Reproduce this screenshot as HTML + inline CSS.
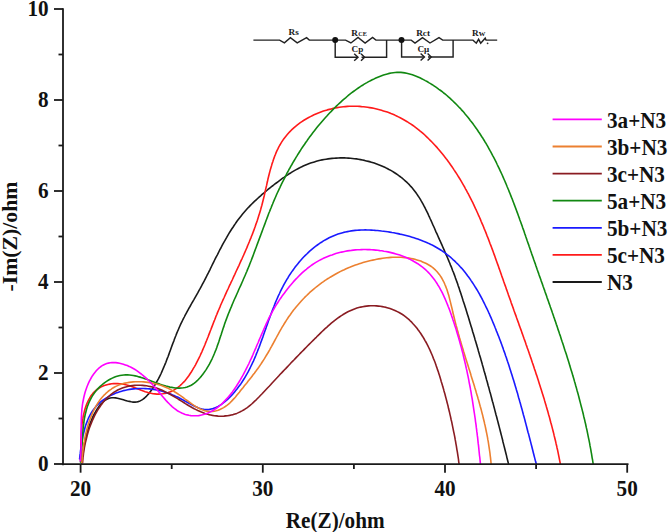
<!DOCTYPE html>
<html><head><meta charset="utf-8"><style>
html,body{margin:0;padding:0;background:#fff;}
svg{display:block;}
</style></head><body>
<svg width="668" height="532" viewBox="0 0 668 532">
<rect width="668" height="532" fill="#fff"/>
<g fill="none" stroke-width="1.60" stroke-linejoin="round" stroke-linecap="round">
<path d="M81.4,462.9 81.7,460.9 81.9,459.0 82.2,457.0 82.5,455.1 82.8,453.1 83.1,451.2 83.4,449.2 83.8,447.3 84.1,445.3 84.5,443.4 84.9,441.4 85.4,439.5 85.8,437.5 86.3,435.6 86.8,433.6 87.4,431.7 87.9,429.8 88.6,427.8 89.2,425.9 89.9,423.9 90.7,422.0 91.5,420.0 92.3,418.1 93.2,416.2 94.2,414.2 95.2,412.3 96.3,410.5 97.4,408.7 98.6,407.0 99.8,405.3 101.1,403.8 102.5,402.5 103.9,401.2 105.3,400.1 106.9,399.2 108.5,398.5 110.2,398.0 111.9,397.8 113.7,397.7 115.6,397.9 117.5,398.2 119.5,398.7 121.4,399.2 123.4,399.8 125.4,400.4 127.4,401.0 129.3,401.4 131.3,401.8 133.1,402.1 135.0,402.1 136.7,402.0 138.4,401.6 140.1,400.9 141.6,400.1 143.1,399.1 144.6,398.0 146.0,396.7 147.3,395.3 148.6,393.9 149.8,392.3 151.0,390.7 152.2,389.1 153.3,387.5 154.4,385.8 155.4,384.1 156.4,382.4 157.4,380.6 158.4,378.9 159.3,377.1 160.2,375.3 161.1,373.5 161.9,371.6 162.7,369.8 163.5,367.9 164.3,366.0 165.1,364.1 165.9,362.2 166.6,360.3 167.3,358.4 168.1,356.5 168.8,354.6 169.5,352.6 170.2,350.7 170.9,348.8 171.6,346.8 172.3,344.9 173.0,343.0 173.8,341.1 174.5,339.1 175.2,337.2 176.0,335.3 176.7,333.4 177.5,331.5 178.3,329.7 179.1,327.8 179.9,326.0 180.7,324.1 181.6,322.3 182.5,320.5 183.4,318.7 184.3,317.0 185.2,315.2 186.2,313.4 187.1,311.7 188.1,309.9 189.0,308.2 190.0,306.5 191.0,304.7 191.9,303.0 192.9,301.3 193.9,299.6 194.9,297.8 195.9,296.1 196.9,294.4 197.9,292.7 198.8,290.9 199.8,289.2 200.8,287.4 201.7,285.7 202.6,283.9 203.6,282.1 204.5,280.4 205.4,278.6 206.3,276.8 207.2,275.0 208.2,273.2 209.1,271.4 210.0,269.6 210.8,267.8 211.7,266.0 212.6,264.2 213.5,262.3 214.4,260.5 215.3,258.7 216.2,256.9 217.2,255.1 218.1,253.3 219.0,251.5 219.9,249.7 220.9,248.0 221.8,246.2 222.7,244.4 223.7,242.6 224.7,240.9 225.7,239.1 226.7,237.4 227.7,235.6 228.7,233.9 229.7,232.2 230.8,230.5 231.9,228.8 233.0,227.2 234.1,225.5 235.2,223.9 236.3,222.2 237.5,220.6 238.7,219.0 239.9,217.4 241.1,215.9 242.4,214.3 243.7,212.8 245.0,211.3 246.3,209.8 247.6,208.3 249.0,206.9 250.4,205.4 251.8,204.0 253.2,202.6 254.7,201.2 256.2,199.8 257.6,198.5 259.1,197.1 260.6,195.8 262.1,194.4 263.7,193.1 265.2,191.8 266.8,190.5 268.3,189.2 269.9,188.0 271.5,186.7 273.1,185.5 274.7,184.2 276.3,183.0 277.9,181.8 279.5,180.6 281.1,179.4 282.7,178.2 284.4,177.1 286.0,175.9 287.7,174.8 289.3,173.7 291.0,172.7 292.7,171.6 294.4,170.6 296.2,169.6 297.9,168.7 299.7,167.8 301.4,166.9 303.2,166.1 305.0,165.3 306.9,164.5 308.7,163.8 310.6,163.1 312.5,162.5 314.4,161.9 316.3,161.3 318.2,160.8 320.2,160.3 322.1,159.9 324.1,159.5 326.1,159.2 328.1,158.9 330.1,158.6 332.1,158.4 334.1,158.2 336.1,158.1 338.2,158.0 340.2,157.9 342.2,157.9 344.3,157.9 346.3,158.0 348.3,158.1 350.4,158.3 352.4,158.5 354.4,158.7 356.4,158.9 358.5,159.2 360.5,159.6 362.5,160.0 364.5,160.4 366.4,160.9 368.4,161.4 370.4,161.9 372.3,162.5 374.2,163.1 376.1,163.8 378.0,164.5 379.9,165.2 381.8,166.0 383.6,166.8 385.4,167.6 387.2,168.5 389.0,169.5 390.8,170.4 392.5,171.4 394.2,172.5 395.8,173.5 397.5,174.7 399.1,175.8 400.7,177.0 402.2,178.2 403.7,179.5 405.2,180.8 406.7,182.1 408.1,183.5 409.5,184.9 410.8,186.4 412.1,187.8 413.4,189.4 414.6,190.9 415.8,192.5 416.9,194.1 418.0,195.8 419.1,197.4 420.2,199.1 421.2,200.9 422.2,202.6 423.2,204.4 424.1,206.2 425.1,208.0 426.0,209.8 426.9,211.6 427.8,213.4 428.6,215.3 429.5,217.2 430.3,219.0 431.2,220.9 432.0,222.7 432.8,224.6 433.7,226.5 434.5,228.3 435.3,230.2 436.1,232.1 437.0,233.9 437.8,235.8 438.6,237.6 439.4,239.4 440.3,241.3 441.1,243.1 441.9,244.9 442.7,246.8 443.5,248.6 444.3,250.4 445.1,252.2 445.9,254.1 446.7,255.9 447.5,257.7 448.3,259.6 449.0,261.4 449.8,263.2 450.5,265.1 451.3,266.9 452.0,268.8 452.7,270.7 453.5,272.5 454.2,274.4 454.9,276.3 455.5,278.1 456.2,280.0 456.9,281.9 457.6,283.8 458.2,285.7 458.9,287.6 459.5,289.5 460.1,291.4 460.8,293.3 461.4,295.2 462.0,297.1 462.6,299.0 463.2,300.9 463.9,302.9 464.5,304.8 465.1,306.7 465.7,308.6 466.3,310.5 466.9,312.5 467.5,314.4 468.1,316.3 468.7,318.2 469.2,320.1 469.8,322.1 470.4,324.0 471.0,325.9 471.6,327.8 472.2,329.7 472.7,331.7 473.3,333.6 473.9,335.5 474.5,337.4 475.0,339.4 475.6,341.3 476.2,343.2 476.7,345.1 477.3,347.1 477.9,349.0 478.4,350.9 479.0,352.9 479.5,354.8 480.1,356.7 480.7,358.6 481.2,360.6 481.8,362.5 482.3,364.4 482.9,366.4 483.4,368.3 483.9,370.2 484.5,372.2 485.0,374.1 485.6,376.0 486.1,378.0 486.6,379.9 487.2,381.8 487.7,383.8 488.2,385.7 488.8,387.6 489.3,389.6 489.8,391.5 490.4,393.4 490.9,395.4 491.4,397.3 491.9,399.3 492.4,401.2 493.0,403.1 493.5,405.1 494.0,407.0 494.5,408.9 495.0,410.9 495.5,412.8 496.0,414.8 496.6,416.7 497.1,418.7 497.6,420.6 498.1,422.5 498.6,424.5 499.1,426.4 499.6,428.4 500.1,430.3 500.6,432.3 501.1,434.2 501.6,436.1 502.1,438.1 502.6,440.0 503.0,442.0 503.5,443.9 504.0,445.9 504.5,447.8 505.0,449.8 505.5,451.7 506.0,453.7 506.5,455.6 506.9,457.6 507.4,459.5 507.9,461.5 508.4,463.4" stroke="#1a1a1a"/>
<path d="M80.8,460.6 80.8,459.1 80.8,457.4 80.8,455.8 80.8,454.0 80.8,452.2 80.8,450.3 80.8,448.4 80.8,446.4 80.8,444.4 80.9,442.3 80.9,440.2 81.0,438.1 81.1,435.9 81.2,433.7 81.3,431.5 81.5,429.3 81.7,427.2 81.9,425.0 82.2,422.8 82.5,420.6 82.9,418.4 83.2,416.3 83.7,414.2 84.2,412.1 84.7,410.0 85.3,408.0 86.0,406.1 86.7,404.1 87.5,402.3 88.3,400.5 89.2,398.8 90.2,397.1 91.2,395.5 92.4,394.1 93.6,392.6 94.9,391.3 96.2,390.1 97.7,389.0 99.2,388.0 100.8,387.1 102.5,386.3 104.3,385.6 106.1,385.0 107.9,384.5 109.8,384.1 111.7,383.8 113.7,383.6 115.7,383.5 117.7,383.6 119.7,383.7 121.7,383.9 123.7,384.3 125.7,384.7 127.7,385.2 129.6,385.8 131.6,386.5 133.6,387.2 135.5,388.0 137.5,388.8 139.4,389.5 141.3,390.3 143.3,391.0 145.2,391.7 147.2,392.3 149.1,392.9 151.0,393.3 153.0,393.7 154.9,393.9 156.9,394.1 158.8,394.1 160.7,394.0 162.6,393.8 164.5,393.5 166.3,393.1 168.2,392.6 169.9,391.9 171.7,391.2 173.4,390.4 175.0,389.4 176.6,388.4 178.2,387.2 179.7,386.0 181.1,384.7 182.5,383.3 183.9,381.9 185.2,380.4 186.5,378.8 187.7,377.2 189.0,375.5 190.1,373.8 191.3,372.0 192.4,370.2 193.4,368.4 194.5,366.6 195.5,364.8 196.5,362.9 197.4,361.1 198.4,359.2 199.3,357.4 200.2,355.5 201.0,353.6 201.9,351.8 202.7,349.9 203.5,348.0 204.3,346.2 205.1,344.3 205.8,342.4 206.6,340.5 207.3,338.7 208.1,336.8 208.8,334.9 209.5,333.1 210.2,331.2 211.0,329.3 211.7,327.4 212.4,325.6 213.1,323.7 213.8,321.9 214.6,320.0 215.3,318.2 216.0,316.3 216.8,314.5 217.5,312.6 218.3,310.8 219.1,309.0 219.9,307.1 220.6,305.3 221.4,303.5 222.2,301.7 223.0,299.9 223.9,298.0 224.7,296.2 225.5,294.4 226.3,292.6 227.1,290.8 228.0,289.0 228.8,287.2 229.6,285.4 230.5,283.6 231.3,281.8 232.2,280.0 233.0,278.2 233.8,276.4 234.7,274.6 235.5,272.8 236.3,271.0 237.2,269.2 238.0,267.4 238.9,265.6 239.7,263.8 240.5,261.9 241.3,260.1 242.2,258.3 243.0,256.5 243.8,254.7 244.6,252.9 245.4,251.0 246.2,249.2 247.0,247.4 247.7,245.5 248.5,243.7 249.3,241.8 250.0,240.0 250.8,238.1 251.5,236.2 252.3,234.4 253.0,232.5 253.7,230.6 254.4,228.7 255.1,226.8 255.7,224.9 256.4,223.0 257.1,221.1 257.7,219.2 258.3,217.2 258.9,215.3 259.5,213.4 260.1,211.4 260.7,209.4 261.2,207.5 261.8,205.5 262.3,203.5 262.8,201.5 263.3,199.5 263.8,197.5 264.3,195.5 264.7,193.5 265.2,191.4 265.6,189.4 266.1,187.4 266.6,185.4 267.0,183.3 267.5,181.3 267.9,179.3 268.4,177.3 268.9,175.3 269.4,173.3 269.9,171.4 270.4,169.4 271.0,167.4 271.6,165.5 272.1,163.6 272.8,161.7 273.4,159.8 274.1,157.9 274.7,156.1 275.5,154.2 276.2,152.4 277.0,150.7 277.9,148.9 278.7,147.2 279.6,145.5 280.6,143.8 281.6,142.2 282.6,140.6 283.7,139.0 284.9,137.4 286.1,135.9 287.3,134.5 288.6,133.0 289.9,131.6 291.3,130.2 292.7,128.9 294.1,127.6 295.6,126.3 297.1,125.1 298.7,123.9 300.3,122.7 301.9,121.6 303.5,120.5 305.2,119.5 306.9,118.5 308.7,117.5 310.4,116.6 312.2,115.7 314.0,114.8 315.9,114.0 317.7,113.2 319.6,112.5 321.5,111.8 323.4,111.1 325.3,110.5 327.3,109.9 329.3,109.4 331.2,108.9 333.2,108.4 335.2,108.0 337.2,107.6 339.2,107.3 341.3,107.0 343.3,106.8 345.3,106.6 347.3,106.4 349.4,106.3 351.4,106.2 353.5,106.2 355.5,106.2 357.5,106.3 359.5,106.4 361.6,106.6 363.6,106.7 365.6,107.0 367.6,107.3 369.6,107.6 371.6,107.9 373.6,108.3 375.6,108.7 377.6,109.2 379.5,109.7 381.5,110.3 383.4,110.9 385.3,111.5 387.3,112.1 389.2,112.8 391.0,113.6 392.9,114.3 394.8,115.1 396.6,116.0 398.4,116.9 400.2,117.8 402.0,118.7 403.8,119.7 405.5,120.7 407.2,121.7 408.9,122.8 410.6,123.9 412.3,125.0 413.9,126.2 415.5,127.4 417.1,128.6 418.7,129.8 420.2,131.1 421.8,132.4 423.3,133.7 424.8,135.0 426.2,136.4 427.7,137.8 429.1,139.2 430.5,140.6 431.9,142.0 433.3,143.5 434.7,145.0 436.0,146.4 437.4,147.9 438.7,149.4 440.0,151.0 441.2,152.5 442.5,154.1 443.7,155.6 445.0,157.2 446.2,158.8 447.4,160.3 448.6,161.9 449.7,163.5 450.9,165.2 452.0,166.8 453.1,168.4 454.2,170.1 455.3,171.7 456.4,173.4 457.5,175.1 458.5,176.8 459.6,178.5 460.6,180.2 461.6,181.9 462.6,183.6 463.6,185.3 464.6,187.0 465.5,188.8 466.5,190.5 467.4,192.3 468.4,194.0 469.3,195.8 470.2,197.6 471.1,199.4 472.0,201.2 472.9,202.9 473.7,204.7 474.6,206.6 475.4,208.4 476.3,210.2 477.1,212.0 477.9,213.8 478.7,215.7 479.6,217.5 480.4,219.4 481.1,221.2 481.9,223.1 482.7,224.9 483.5,226.8 484.2,228.6 485.0,230.5 485.8,232.4 486.5,234.3 487.2,236.1 488.0,238.0 488.7,239.9 489.4,241.8 490.1,243.7 490.9,245.6 491.6,247.5 492.3,249.4 493.0,251.3 493.7,253.2 494.4,255.1 495.1,257.0 495.7,258.9 496.4,260.8 497.1,262.7 497.8,264.6 498.5,266.5 499.1,268.4 499.8,270.3 500.5,272.2 501.2,274.2 501.8,276.1 502.5,278.0 503.2,279.9 503.8,281.8 504.5,283.7 505.2,285.6 505.9,287.5 506.5,289.4 507.2,291.3 507.9,293.2 508.5,295.1 509.2,297.0 509.9,298.9 510.6,300.8 511.2,302.7 511.9,304.6 512.6,306.5 513.3,308.4 513.9,310.3 514.6,312.2 515.3,314.1 516.0,315.9 516.6,317.8 517.3,319.7 518.0,321.6 518.7,323.5 519.3,325.4 520.0,327.3 520.7,329.1 521.4,331.0 522.0,332.9 522.7,334.8 523.4,336.7 524.0,338.5 524.7,340.4 525.4,342.3 526.0,344.2 526.7,346.1 527.3,348.0 528.0,349.8 528.7,351.7 529.3,353.6 530.0,355.5 530.6,357.4 531.3,359.3 531.9,361.2 532.5,363.0 533.2,364.9 533.8,366.8 534.4,368.7 535.1,370.6 535.7,372.5 536.3,374.4 537.0,376.3 537.6,378.2 538.2,380.1 538.8,382.0 539.4,383.9 540.0,385.8 540.6,387.7 541.2,389.6 541.8,391.5 542.4,393.4 543.0,395.3 543.6,397.2 544.2,399.1 544.7,401.0 545.3,402.9 545.9,404.9 546.4,406.8 547.0,408.7 547.5,410.6 548.1,412.6 548.6,414.5 549.2,416.4 549.7,418.3 550.2,420.3 550.7,422.2 551.3,424.2 551.8,426.1 552.3,428.1 552.8,430.0 553.3,432.0 553.8,433.9 554.2,435.9 554.7,437.8 555.2,439.8 555.7,441.8 556.1,443.7 556.6,445.7 557.0,447.7 557.5,449.7 557.9,451.7 558.3,453.7 558.7,455.7 559.1,457.7 559.5,459.7 559.9,461.7 560.3,463.7" stroke="#ff1a1a"/>
<path d="M79.6,458.9 79.8,457.0 80.0,455.1 80.3,453.2 80.5,451.2 80.8,449.2 81.1,447.3 81.4,445.3 81.7,443.2 82.0,441.2 82.4,439.2 82.7,437.2 83.1,435.2 83.6,433.2 84.1,431.2 84.6,429.2 85.1,427.3 85.7,425.3 86.4,423.4 87.1,421.6 87.8,419.7 88.6,417.9 89.5,416.1 90.4,414.4 91.4,412.7 92.5,411.0 93.6,409.4 94.8,407.9 96.0,406.4 97.4,404.9 98.8,403.6 100.3,402.2 101.8,401.0 103.4,399.8 105.1,398.7 106.8,397.6 108.6,396.6 110.4,395.6 112.2,394.7 114.0,393.9 115.9,393.1 117.8,392.4 119.8,391.8 121.7,391.2 123.6,390.6 125.6,390.2 127.6,389.8 129.6,389.4 131.5,389.1 133.5,388.9 135.5,388.7 137.5,388.6 139.5,388.5 141.5,388.5 143.5,388.5 145.5,388.6 147.5,388.7 149.5,388.9 151.5,389.2 153.4,389.4 155.4,389.8 157.4,390.2 159.3,390.6 161.2,391.1 163.1,391.6 165.0,392.2 166.9,392.8 168.8,393.4 170.7,394.1 172.5,394.9 174.3,395.6 176.2,396.5 178.0,397.3 179.8,398.2 181.6,399.2 183.5,400.2 185.3,401.2 187.2,402.2 189.0,403.3 190.9,404.3 192.8,405.3 194.7,406.3 196.6,407.1 198.4,407.9 200.3,408.6 202.2,409.1 204.0,409.4 205.9,409.6 207.7,409.6 209.5,409.4 211.2,409.0 213.0,408.6 214.7,407.9 216.4,407.2 218.1,406.4 219.8,405.4 221.4,404.3 223.0,403.2 224.6,401.9 226.1,400.6 227.6,399.3 229.1,397.9 230.6,396.4 232.0,394.9 233.3,393.4 234.6,391.9 235.9,390.3 237.2,388.7 238.4,387.1 239.6,385.5 240.8,383.9 241.9,382.2 243.0,380.5 244.1,378.8 245.1,377.1 246.1,375.4 247.1,373.7 248.1,371.9 249.0,370.1 249.9,368.3 250.8,366.5 251.7,364.7 252.5,362.9 253.4,361.1 254.2,359.2 255.0,357.4 255.8,355.5 256.5,353.6 257.3,351.7 258.0,349.9 258.8,348.0 259.5,346.1 260.2,344.2 260.9,342.3 261.6,340.4 262.3,338.5 263.0,336.6 263.6,334.7 264.3,332.7 265.0,330.8 265.7,328.9 266.3,327.0 267.0,325.1 267.7,323.2 268.3,321.3 269.0,319.4 269.7,317.6 270.4,315.7 271.1,313.8 271.8,311.9 272.5,310.0 273.2,308.2 274.0,306.3 274.7,304.5 275.4,302.6 276.2,300.8 277.0,299.0 277.8,297.1 278.6,295.3 279.5,293.5 280.3,291.7 281.2,289.9 282.1,288.1 283.0,286.4 283.9,284.6 284.9,282.8 285.9,281.1 286.9,279.4 288.0,277.7 289.0,275.9 290.1,274.3 291.2,272.6 292.4,270.9 293.6,269.3 294.8,267.6 296.0,266.0 297.3,264.4 298.5,262.9 299.9,261.3 301.2,259.8 302.5,258.3 303.9,256.8 305.3,255.4 306.8,254.0 308.2,252.6 309.7,251.2 311.2,249.9 312.7,248.6 314.2,247.4 315.8,246.2 317.4,245.0 319.0,243.8 320.6,242.7 322.3,241.7 323.9,240.6 325.6,239.7 327.4,238.7 329.1,237.8 330.8,237.0 332.6,236.2 334.4,235.4 336.2,234.7 338.0,234.1 339.9,233.5 341.8,232.9 343.6,232.4 345.5,232.0 347.5,231.6 349.4,231.2 351.3,230.9 353.3,230.6 355.2,230.4 357.2,230.3 359.2,230.1 361.2,230.0 363.2,230.0 365.3,229.9 367.3,230.0 369.3,230.0 371.3,230.1 373.4,230.2 375.4,230.4 377.5,230.5 379.5,230.7 381.6,231.0 383.6,231.2 385.7,231.5 387.8,231.8 389.8,232.1 391.9,232.5 393.9,232.8 395.9,233.2 398.0,233.6 400.0,234.1 402.0,234.5 404.0,235.0 406.0,235.5 408.0,236.0 410.0,236.6 412.0,237.2 414.0,237.8 415.9,238.4 417.8,239.0 419.7,239.7 421.6,240.4 423.5,241.2 425.4,241.9 427.2,242.7 429.0,243.6 430.8,244.4 432.6,245.3 434.4,246.2 436.1,247.2 437.8,248.2 439.5,249.2 441.1,250.2 442.7,251.3 444.3,252.4 445.9,253.6 447.4,254.8 449.0,256.0 450.4,257.2 451.9,258.5 453.3,259.8 454.8,261.1 456.1,262.5 457.5,263.8 458.9,265.2 460.2,266.7 461.5,268.1 462.8,269.6 464.0,271.1 465.2,272.6 466.5,274.2 467.6,275.8 468.8,277.3 470.0,278.9 471.1,280.6 472.2,282.2 473.3,283.9 474.4,285.6 475.4,287.3 476.5,289.0 477.5,290.7 478.5,292.4 479.5,294.2 480.5,296.0 481.4,297.7 482.4,299.5 483.3,301.3 484.2,303.2 485.1,305.0 486.0,306.8 486.9,308.6 487.8,310.5 488.6,312.3 489.5,314.2 490.3,316.1 491.1,317.9 491.9,319.8 492.7,321.7 493.5,323.6 494.3,325.5 495.0,327.3 495.8,329.2 496.5,331.1 497.3,333.0 498.0,334.9 498.8,336.8 499.5,338.7 500.2,340.5 500.9,342.4 501.6,344.3 502.3,346.2 503.0,348.1 503.6,350.0 504.3,351.9 505.0,353.8 505.6,355.7 506.3,357.5 506.9,359.4 507.5,361.3 508.2,363.2 508.8,365.1 509.4,367.0 510.0,368.9 510.6,370.8 511.2,372.7 511.8,374.6 512.4,376.5 513.0,378.4 513.6,380.3 514.2,382.2 514.7,384.1 515.3,386.0 515.9,387.9 516.4,389.8 517.0,391.7 517.6,393.6 518.1,395.6 518.6,397.5 519.2,399.4 519.7,401.3 520.3,403.2 520.8,405.1 521.3,407.1 521.9,409.0 522.4,410.9 522.9,412.8 523.4,414.7 524.0,416.7 524.5,418.6 525.0,420.5 525.5,422.5 526.0,424.4 526.5,426.3 527.0,428.3 527.5,430.2 528.0,432.2 528.6,434.1 529.1,436.1 529.6,438.0 530.1,440.0 530.6,441.9 531.1,443.9 531.6,445.8 532.1,447.8 532.6,449.8 533.1,451.7 533.6,453.7 534.1,455.7 534.6,457.6 535.1,459.6 535.6,461.6 536.2,463.6" stroke="#1a1aff"/>
<path d="M80.4,462.0 80.7,460.1 80.9,458.1 81.2,456.2 81.4,454.2 81.5,452.2 81.7,450.2 81.8,448.2 82.0,446.2 82.1,444.1 82.2,442.1 82.3,440.1 82.5,438.1 82.6,436.0 82.7,434.0 82.9,432.0 83.0,429.9 83.2,427.9 83.4,425.9 83.7,423.9 83.9,421.9 84.2,419.9 84.5,418.0 84.9,416.0 85.3,414.1 85.8,412.2 86.3,410.3 86.8,408.4 87.4,406.5 88.1,404.7 88.8,402.9 89.6,401.1 90.5,399.3 91.4,397.6 92.4,395.9 93.5,394.2 94.7,392.6 95.9,391.0 97.3,389.4 98.7,387.9 100.2,386.4 101.8,385.0 103.4,383.6 105.1,382.3 106.9,381.1 108.7,380.0 110.5,379.0 112.3,378.1 114.2,377.2 116.1,376.5 118.0,376.0 119.9,375.5 121.8,375.2 123.8,375.0 125.7,374.9 127.6,374.9 129.5,375.0 131.4,375.2 133.3,375.5 135.2,375.9 137.1,376.3 139.0,376.9 141.0,377.4 142.9,378.0 144.8,378.7 146.7,379.3 148.6,380.0 150.5,380.7 152.5,381.5 154.4,382.2 156.3,382.9 158.2,383.6 160.2,384.3 162.1,384.9 164.0,385.5 166.0,386.1 167.9,386.6 169.9,387.1 171.8,387.4 173.8,387.7 175.7,388.0 177.7,388.1 179.6,388.1 181.5,388.0 183.4,387.8 185.3,387.5 187.1,387.0 188.9,386.3 190.7,385.5 192.4,384.5 194.0,383.4 195.6,382.1 197.2,380.7 198.6,379.2 200.0,377.7 201.4,376.1 202.7,374.4 203.9,372.8 205.1,371.1 206.3,369.4 207.3,367.7 208.4,365.9 209.4,364.2 210.3,362.4 211.2,360.6 212.1,358.8 212.9,357.0 213.7,355.2 214.5,353.3 215.2,351.5 216.0,349.6 216.7,347.7 217.3,345.9 218.0,344.0 218.7,342.1 219.3,340.2 219.9,338.3 220.5,336.4 221.2,334.5 221.8,332.6 222.4,330.7 223.0,328.8 223.7,326.9 224.3,325.0 224.9,323.1 225.6,321.3 226.3,319.4 227.0,317.5 227.7,315.6 228.4,313.8 229.2,311.9 229.9,310.1 230.7,308.2 231.5,306.4 232.2,304.5 233.0,302.7 233.8,300.8 234.6,299.0 235.5,297.2 236.3,295.3 237.1,293.5 237.9,291.7 238.7,289.8 239.5,288.0 240.4,286.2 241.2,284.4 242.0,282.5 242.8,280.7 243.6,278.8 244.4,277.0 245.2,275.2 246.0,273.3 246.8,271.5 247.5,269.6 248.3,267.8 249.1,265.9 249.8,264.0 250.5,262.2 251.3,260.3 252.0,258.4 252.7,256.6 253.4,254.7 254.1,252.8 254.8,250.9 255.5,249.0 256.2,247.2 256.9,245.3 257.6,243.4 258.3,241.5 259.0,239.6 259.7,237.8 260.4,235.9 261.1,234.0 261.8,232.1 262.5,230.2 263.2,228.3 263.9,226.5 264.6,224.6 265.3,222.7 266.0,220.8 266.7,219.0 267.4,217.1 268.1,215.2 268.8,213.3 269.6,211.5 270.3,209.6 271.1,207.8 271.8,205.9 272.6,204.0 273.3,202.2 274.1,200.4 274.9,198.5 275.7,196.7 276.5,194.8 277.3,193.0 278.2,191.2 279.0,189.4 279.9,187.6 280.7,185.8 281.6,183.9 282.5,182.1 283.4,180.4 284.3,178.6 285.2,176.8 286.1,175.0 287.0,173.2 288.0,171.5 288.9,169.7 289.9,168.0 290.9,166.2 291.9,164.5 292.9,162.7 293.9,161.0 294.9,159.3 295.9,157.6 297.0,155.9 298.0,154.2 299.1,152.5 300.2,150.8 301.2,149.1 302.3,147.5 303.5,145.8 304.6,144.2 305.7,142.5 306.9,140.9 308.0,139.3 309.2,137.6 310.4,136.0 311.6,134.4 312.8,132.8 314.0,131.3 315.2,129.7 316.5,128.1 317.7,126.6 319.0,125.0 320.3,123.5 321.6,122.0 322.9,120.5 324.2,119.0 325.5,117.5 326.9,116.0 328.2,114.5 329.6,113.0 331.0,111.6 332.4,110.1 333.8,108.7 335.2,107.3 336.6,105.9 338.1,104.5 339.6,103.1 341.0,101.8 342.5,100.4 344.0,99.1 345.6,97.8 347.1,96.5 348.6,95.2 350.2,93.9 351.8,92.7 353.4,91.5 355.0,90.3 356.7,89.1 358.3,88.0 360.0,86.8 361.7,85.7 363.4,84.7 365.1,83.6 366.9,82.6 368.6,81.6 370.4,80.7 372.2,79.7 374.1,78.9 375.9,78.0 377.8,77.2 379.7,76.4 381.6,75.7 383.5,75.0 385.4,74.4 387.3,73.9 389.3,73.4 391.2,73.0 393.2,72.7 395.1,72.5 397.0,72.4 399.0,72.3 400.9,72.4 402.9,72.6 404.8,72.9 406.7,73.2 408.6,73.7 410.5,74.2 412.4,74.8 414.3,75.5 416.2,76.2 418.0,77.0 419.9,77.8 421.7,78.7 423.5,79.6 425.3,80.6 427.1,81.5 428.8,82.6 430.5,83.6 432.3,84.7 434.0,85.8 435.6,86.9 437.3,88.1 438.9,89.3 440.6,90.5 442.2,91.7 443.7,93.0 445.3,94.2 446.9,95.5 448.4,96.9 449.9,98.2 451.4,99.6 452.9,101.0 454.3,102.4 455.8,103.8 457.2,105.2 458.6,106.7 460.0,108.1 461.3,109.6 462.7,111.1 464.0,112.6 465.3,114.2 466.6,115.7 467.9,117.2 469.1,118.8 470.3,120.4 471.6,121.9 472.8,123.5 473.9,125.1 475.1,126.8 476.3,128.4 477.4,130.0 478.5,131.7 479.6,133.3 480.7,135.0 481.8,136.7 482.9,138.3 483.9,140.0 484.9,141.7 486.0,143.4 487.0,145.2 488.0,146.9 488.9,148.6 489.9,150.4 490.9,152.1 491.8,153.8 492.7,155.6 493.7,157.4 494.6,159.1 495.5,160.9 496.4,162.7 497.2,164.5 498.1,166.3 499.0,168.1 499.8,169.9 500.6,171.7 501.5,173.5 502.3,175.3 503.1,177.1 503.9,179.0 504.7,180.8 505.5,182.6 506.3,184.5 507.0,186.3 507.8,188.2 508.6,190.0 509.3,191.9 510.1,193.7 510.8,195.6 511.5,197.4 512.3,199.3 513.0,201.2 513.7,203.0 514.4,204.9 515.1,206.8 515.8,208.6 516.5,210.5 517.2,212.4 517.9,214.3 518.6,216.2 519.3,218.1 519.9,220.0 520.6,221.8 521.3,223.7 522.0,225.6 522.6,227.5 523.3,229.4 524.0,231.3 524.6,233.2 525.3,235.1 525.9,237.0 526.6,238.9 527.2,240.8 527.9,242.7 528.6,244.6 529.2,246.5 529.9,248.4 530.5,250.3 531.2,252.2 531.8,254.1 532.5,256.0 533.2,257.9 533.8,259.8 534.5,261.7 535.2,263.6 535.8,265.5 536.5,267.4 537.1,269.3 537.8,271.2 538.5,273.1 539.1,275.0 539.8,276.9 540.5,278.7 541.1,280.6 541.8,282.5 542.5,284.4 543.1,286.3 543.8,288.2 544.5,290.1 545.1,292.0 545.8,293.9 546.5,295.8 547.1,297.7 547.8,299.6 548.5,301.5 549.1,303.4 549.8,305.2 550.4,307.1 551.1,309.0 551.8,310.9 552.4,312.8 553.1,314.7 553.7,316.6 554.4,318.5 555.0,320.4 555.7,322.3 556.3,324.2 557.0,326.1 557.6,328.0 558.2,329.9 558.9,331.8 559.5,333.7 560.2,335.6 560.8,337.5 561.4,339.4 562.0,341.3 562.7,343.2 563.3,345.1 563.9,347.0 564.5,348.9 565.1,350.8 565.8,352.7 566.4,354.6 567.0,356.5 567.6,358.4 568.2,360.3 568.8,362.2 569.4,364.2 569.9,366.1 570.5,368.0 571.1,369.9 571.7,371.8 572.3,373.7 572.8,375.6 573.4,377.6 574.0,379.5 574.5,381.4 575.1,383.3 575.6,385.2 576.2,387.2 576.7,389.1 577.2,391.0 577.8,393.0 578.3,394.9 578.8,396.8 579.3,398.7 579.8,400.7 580.3,402.6 580.8,404.6 581.3,406.5 581.8,408.4 582.3,410.4 582.8,412.3 583.3,414.3 583.7,416.2 584.2,418.2 584.7,420.1 585.1,422.1 585.6,424.0 586.0,426.0 586.4,427.9 586.9,429.9 587.3,431.9 587.7,433.8 588.1,435.8 588.5,437.8 588.9,439.7 589.3,441.7 589.7,443.7 590.0,445.7 590.4,447.6 590.8,449.6 591.1,451.6 591.5,453.6 591.8,455.6 592.1,457.6 592.5,459.5 592.8,461.5 593.1,463.5" stroke="#118811"/>
<path d="M82.6,462.7 82.7,461.0 82.9,459.1 83.0,457.3 83.3,455.4 83.5,453.5 83.8,451.6 84.1,449.6 84.4,447.7 84.8,445.7 85.2,443.7 85.6,441.7 86.1,439.7 86.6,437.7 87.1,435.7 87.7,433.6 88.3,431.6 88.9,429.6 89.6,427.6 90.3,425.7 91.1,423.7 91.9,421.7 92.7,419.8 93.6,417.9 94.5,416.0 95.4,414.2 96.4,412.4 97.4,410.6 98.5,408.9 99.6,407.2 100.7,405.5 101.9,403.9 103.1,402.3 104.4,400.8 105.7,399.4 107.0,398.0 108.4,396.6 109.9,395.4 111.4,394.2 112.9,393.0 114.5,391.9 116.1,391.0 117.7,390.0 119.4,389.2 121.2,388.5 123.0,387.8 124.8,387.2 126.7,386.7 128.6,386.3 130.5,385.9 132.5,385.6 134.5,385.4 136.5,385.3 138.5,385.3 140.5,385.3 142.5,385.4 144.5,385.6 146.5,385.8 148.6,386.2 150.6,386.6 152.5,387.0 154.5,387.5 156.5,388.1 158.4,388.8 160.3,389.5 162.2,390.3 164.1,391.2 165.9,392.1 167.7,393.0 169.6,394.0 171.3,395.0 173.1,396.0 174.9,397.1 176.7,398.1 178.4,399.2 180.2,400.3 181.9,401.4 183.7,402.5 185.4,403.6 187.2,404.7 188.9,405.7 190.7,406.7 192.4,407.7 194.2,408.7 196.0,409.6 197.8,410.5 199.6,411.3 201.4,412.1 203.2,412.8 205.0,413.5 206.9,414.1 208.7,414.6 210.6,415.0 212.5,415.4 214.4,415.7 216.3,415.9 218.2,416.1 220.1,416.2 222.0,416.2 223.9,416.1 225.8,415.9 227.6,415.7 229.5,415.4 231.3,415.0 233.2,414.6 235.0,414.0 236.8,413.4 238.5,412.6 240.3,411.8 242.0,410.9 243.6,410.0 245.3,408.9 246.9,407.8 248.5,406.6 250.1,405.3 251.7,404.0 253.2,402.6 254.7,401.2 256.2,399.8 257.7,398.3 259.2,396.8 260.6,395.3 262.1,393.8 263.5,392.2 264.9,390.7 266.3,389.2 267.7,387.7 269.2,386.2 270.6,384.7 271.9,383.2 273.3,381.7 274.7,380.2 276.1,378.7 277.5,377.3 278.9,375.8 280.2,374.3 281.6,372.9 283.0,371.4 284.3,370.0 285.7,368.6 287.1,367.1 288.4,365.7 289.8,364.3 291.1,362.8 292.5,361.4 293.9,360.0 295.2,358.6 296.6,357.1 298.0,355.7 299.4,354.3 300.7,352.9 302.1,351.5 303.5,350.1 304.9,348.6 306.3,347.2 307.7,345.8 309.1,344.4 310.5,343.0 312.0,341.5 313.4,340.1 314.8,338.7 316.3,337.3 317.7,335.8 319.2,334.4 320.7,332.9 322.1,331.5 323.6,330.1 325.1,328.7 326.7,327.3 328.2,325.9 329.7,324.6 331.3,323.2 332.9,321.9 334.5,320.6 336.1,319.4 337.7,318.2 339.4,317.0 341.0,315.9 342.7,314.8 344.4,313.8 346.1,312.8 347.9,311.8 349.6,311.0 351.4,310.2 353.2,309.4 355.1,308.7 356.9,308.1 358.8,307.6 360.7,307.1 362.6,306.7 364.6,306.4 366.5,306.1 368.5,305.9 370.5,305.8 372.4,305.8 374.4,305.8 376.4,305.9 378.4,306.1 380.3,306.3 382.3,306.6 384.2,307.0 386.2,307.4 388.1,307.9 390.0,308.5 391.9,309.2 393.7,309.9 395.5,310.7 397.3,311.6 399.1,312.5 400.8,313.5 402.5,314.5 404.1,315.7 405.7,316.9 407.2,318.1 408.8,319.4 410.2,320.8 411.7,322.2 413.0,323.7 414.4,325.2 415.7,326.7 417.0,328.3 418.2,330.0 419.4,331.6 420.6,333.3 421.7,335.0 422.8,336.7 423.9,338.5 424.9,340.3 425.9,342.0 426.9,343.8 427.8,345.6 428.7,347.5 429.6,349.3 430.4,351.1 431.2,353.0 432.0,354.8 432.8,356.7 433.5,358.6 434.3,360.5 435.0,362.3 435.7,364.2 436.3,366.1 437.0,368.0 437.6,369.9 438.3,371.8 438.9,373.7 439.5,375.6 440.1,377.5 440.7,379.5 441.2,381.4 441.8,383.3 442.4,385.2 442.9,387.1 443.5,389.0 444.0,390.9 444.6,392.9 445.1,394.8 445.6,396.7 446.1,398.6 446.6,400.5 447.1,402.5 447.6,404.4 448.1,406.3 448.5,408.3 449.0,410.2 449.5,412.2 449.9,414.1 450.4,416.1 450.8,418.0 451.2,420.0 451.7,421.9 452.1,423.9 452.5,425.8 452.9,427.8 453.3,429.8 453.7,431.8 454.1,433.7 454.5,435.7 454.9,437.7 455.2,439.7 455.6,441.6 455.9,443.6 456.3,445.6 456.6,447.6 456.9,449.6 457.3,451.6 457.6,453.6 457.9,455.6 458.2,457.5 458.5,459.5 458.7,461.5 459.0,463.5" stroke="#8a1c22"/>
<path d="M81.8,462.8 82.0,461.0 82.1,459.2 82.2,457.3 82.4,455.4 82.6,453.4 82.8,451.5 83.1,449.5 83.3,447.5 83.6,445.5 83.9,443.5 84.3,441.4 84.6,439.4 85.0,437.4 85.4,435.3 85.9,433.3 86.4,431.3 86.9,429.2 87.4,427.2 88.0,425.2 88.6,423.2 89.3,421.3 90.0,419.3 90.7,417.4 91.5,415.5 92.3,413.6 93.1,411.7 94.0,409.9 94.9,408.1 95.9,406.4 96.9,404.7 97.9,403.0 99.0,401.4 100.1,399.8 101.3,398.3 102.6,396.8 103.8,395.4 105.2,394.1 106.5,392.8 108.0,391.5 109.4,390.4 111.0,389.3 112.5,388.2 114.2,387.3 115.9,386.4 117.6,385.6 119.4,384.8 121.3,384.2 123.2,383.6 125.1,383.1 127.1,382.7 129.1,382.4 131.1,382.1 133.2,381.9 135.3,381.8 137.4,381.7 139.5,381.7 141.6,381.8 143.7,381.9 145.9,382.1 148.0,382.4 150.0,382.7 152.1,383.1 154.2,383.5 156.2,384.0 158.1,384.5 160.1,385.1 162.0,385.7 163.8,386.4 165.6,387.2 167.4,387.9 169.1,388.8 170.8,389.6 172.5,390.6 174.1,391.5 175.7,392.5 177.3,393.5 178.9,394.6 180.5,395.7 182.2,396.9 183.8,398.0 185.4,399.3 187.1,400.5 188.8,401.7 190.5,403.0 192.2,404.2 193.9,405.3 195.7,406.5 197.5,407.5 199.2,408.5 201.1,409.3 202.9,410.1 204.8,410.7 206.6,411.1 208.5,411.4 210.4,411.5 212.4,411.4 214.3,411.2 216.2,410.8 218.1,410.2 220.0,409.4 221.8,408.6 223.6,407.6 225.3,406.5 226.9,405.4 228.5,404.1 230.0,402.8 231.4,401.4 232.8,399.9 234.2,398.4 235.5,396.9 236.8,395.3 238.1,393.7 239.4,392.2 240.6,390.6 241.9,389.0 243.2,387.4 244.4,385.8 245.7,384.3 247.0,382.7 248.2,381.1 249.5,379.5 250.7,378.0 251.9,376.4 253.1,374.8 254.4,373.2 255.6,371.6 256.7,370.0 257.9,368.4 259.1,366.8 260.2,365.1 261.3,363.5 262.4,361.8 263.5,360.1 264.6,358.4 265.6,356.7 266.6,355.0 267.7,353.3 268.7,351.5 269.7,349.8 270.6,348.0 271.6,346.3 272.6,344.5 273.5,342.8 274.5,341.0 275.5,339.2 276.4,337.5 277.4,335.7 278.4,333.9 279.3,332.2 280.3,330.4 281.3,328.7 282.3,326.9 283.4,325.2 284.4,323.5 285.5,321.8 286.5,320.1 287.6,318.5 288.7,316.8 289.9,315.2 291.1,313.5 292.2,311.9 293.4,310.3 294.7,308.8 295.9,307.2 297.2,305.7 298.5,304.2 299.8,302.7 301.1,301.2 302.5,299.7 303.9,298.3 305.2,296.9 306.7,295.5 308.1,294.1 309.5,292.7 311.0,291.4 312.5,290.1 314.0,288.8 315.6,287.5 317.1,286.3 318.7,285.1 320.3,283.9 321.9,282.7 323.5,281.6 325.1,280.4 326.8,279.3 328.5,278.3 330.2,277.2 331.9,276.2 333.6,275.2 335.3,274.2 337.1,273.2 338.9,272.3 340.6,271.4 342.4,270.5 344.2,269.7 346.1,268.8 347.9,268.0 349.7,267.3 351.6,266.5 353.5,265.8 355.4,265.1 357.3,264.4 359.2,263.8 361.1,263.2 363.0,262.6 364.9,262.0 366.9,261.5 368.8,261.0 370.8,260.5 372.8,260.1 374.7,259.7 376.7,259.3 378.7,258.9 380.7,258.6 382.7,258.3 384.7,258.0 386.8,257.8 388.8,257.6 390.8,257.4 392.8,257.3 394.8,257.2 396.9,257.2 398.9,257.2 400.9,257.3 402.9,257.4 405.0,257.6 407.0,257.8 409.0,258.1 411.0,258.5 413.0,258.9 414.9,259.3 416.9,259.9 418.8,260.5 420.8,261.1 422.6,261.9 424.5,262.7 426.3,263.5 428.0,264.5 429.7,265.5 431.3,266.5 432.8,267.7 434.2,268.9 435.6,270.2 436.9,271.5 438.1,272.9 439.3,274.4 440.3,275.9 441.4,277.5 442.3,279.1 443.2,280.8 444.1,282.5 444.8,284.3 445.6,286.1 446.3,288.0 447.0,289.8 447.6,291.7 448.2,293.7 448.8,295.6 449.3,297.6 449.8,299.6 450.3,301.6 450.8,303.6 451.3,305.7 451.8,307.7 452.3,309.7 452.7,311.8 453.2,313.8 453.7,315.8 454.2,317.8 454.7,319.9 455.2,321.9 455.7,323.9 456.2,325.8 456.8,327.8 457.3,329.8 457.9,331.8 458.4,333.7 459.0,335.7 459.5,337.7 460.1,339.6 460.6,341.6 461.2,343.5 461.8,345.4 462.4,347.4 463.0,349.3 463.5,351.2 464.1,353.1 464.7,355.1 465.3,357.0 465.9,358.9 466.5,360.8 467.1,362.7 467.7,364.6 468.3,366.5 468.9,368.4 469.5,370.3 470.1,372.2 470.7,374.1 471.2,376.0 471.8,377.9 472.4,379.8 473.0,381.7 473.6,383.5 474.2,385.4 474.7,387.3 475.3,389.2 475.9,391.1 476.4,393.0 477.0,394.9 477.6,396.8 478.1,398.7 478.7,400.6 479.2,402.5 479.7,404.4 480.2,406.3 480.8,408.2 481.3,410.1 481.8,412.1 482.3,414.0 482.8,415.9 483.2,417.8 483.7,419.8 484.2,421.7 484.6,423.7 485.1,425.6 485.5,427.5 485.9,429.5 486.3,431.5 486.7,433.4 487.1,435.4 487.5,437.4 487.8,439.4 488.2,441.4 488.5,443.4 488.8,445.4 489.1,447.4 489.4,449.4 489.7,451.4 490.0,453.5 490.2,455.5 490.5,457.6 490.7,459.6 490.9,461.7 491.1,463.8" stroke="#ec8030"/>
<path d="M80.2,460.9 80.4,459.0 80.6,457.0 80.8,455.0 80.9,453.0 81.0,451.0 81.1,449.0 81.1,447.0 81.2,445.1 81.2,443.1 81.2,441.1 81.2,439.1 81.2,437.1 81.2,435.1 81.2,433.1 81.2,431.1 81.2,429.1 81.2,427.1 81.2,425.1 81.2,423.1 81.3,421.0 81.3,419.0 81.4,417.0 81.5,415.0 81.6,413.0 81.8,411.0 81.9,409.0 82.2,407.0 82.4,405.0 82.7,403.0 83.1,401.0 83.5,399.0 83.9,397.0 84.4,395.0 84.9,393.0 85.5,391.0 86.2,389.0 86.9,387.0 87.7,385.0 88.5,383.1 89.4,381.2 90.4,379.3 91.4,377.5 92.5,375.7 93.7,374.0 94.9,372.4 96.1,370.9 97.5,369.5 98.9,368.2 100.3,367.0 101.8,365.9 103.4,365.0 105.0,364.2 106.7,363.5 108.4,363.1 110.2,362.7 112.0,362.6 113.8,362.5 115.7,362.6 117.6,362.9 119.6,363.2 121.5,363.7 123.4,364.2 125.3,364.9 127.3,365.6 129.1,366.4 131.0,367.3 132.8,368.3 134.6,369.3 136.4,370.4 138.1,371.6 139.7,372.8 141.3,374.0 142.9,375.3 144.4,376.6 145.9,377.9 147.4,379.3 148.9,380.8 150.3,382.2 151.7,383.7 153.1,385.2 154.4,386.7 155.8,388.3 157.1,389.9 158.4,391.5 159.8,393.1 161.1,394.7 162.4,396.3 163.7,397.8 165.1,399.4 166.4,400.9 167.8,402.4 169.2,403.8 170.6,405.2 172.1,406.6 173.6,407.8 175.1,409.0 176.7,410.2 178.3,411.2 180.0,412.1 181.7,413.0 183.5,413.7 185.3,414.4 187.2,414.9 189.0,415.3 190.9,415.6 192.9,415.8 194.8,415.8 196.7,415.8 198.7,415.6 200.6,415.2 202.5,414.8 204.4,414.3 206.2,413.7 208.1,412.9 209.9,412.1 211.6,411.2 213.3,410.2 215.0,409.2 216.7,408.0 218.3,406.8 219.8,405.6 221.4,404.3 222.9,402.9 224.3,401.4 225.7,399.9 227.1,398.4 228.5,396.8 229.8,395.2 231.1,393.6 232.4,391.9 233.6,390.2 234.8,388.5 236.0,386.8 237.1,385.0 238.2,383.3 239.3,381.5 240.4,379.7 241.4,377.9 242.4,376.2 243.4,374.4 244.3,372.6 245.2,370.9 246.1,369.1 247.0,367.3 247.9,365.5 248.8,363.8 249.6,362.0 250.4,360.2 251.3,358.4 252.1,356.6 252.9,354.8 253.6,353.0 254.4,351.2 255.2,349.4 256.0,347.6 256.7,345.8 257.5,344.0 258.3,342.2 259.0,340.4 259.8,338.5 260.6,336.7 261.4,334.9 262.2,333.0 263.0,331.2 263.8,329.3 264.6,327.5 265.4,325.7 266.2,323.9 267.1,322.0 268.0,320.2 268.8,318.4 269.7,316.6 270.7,314.8 271.6,313.1 272.5,311.3 273.5,309.6 274.5,307.8 275.5,306.1 276.6,304.4 277.7,302.7 278.7,301.1 279.8,299.4 281.0,297.7 282.1,296.1 283.3,294.5 284.5,292.9 285.7,291.3 286.9,289.7 288.2,288.1 289.4,286.5 290.7,285.0 292.0,283.4 293.3,281.9 294.7,280.4 296.1,278.9 297.5,277.5 298.9,276.0 300.3,274.6 301.8,273.2 303.2,271.9 304.7,270.6 306.3,269.3 307.8,268.0 309.4,266.8 311.0,265.7 312.6,264.5 314.3,263.4 315.9,262.4 317.6,261.4 319.4,260.4 321.1,259.5 322.9,258.6 324.7,257.8 326.5,257.0 328.3,256.2 330.1,255.5 332.0,254.9 333.9,254.2 335.8,253.6 337.7,253.1 339.6,252.6 341.5,252.1 343.5,251.7 345.5,251.3 347.4,250.9 349.4,250.6 351.4,250.4 353.4,250.1 355.4,249.9 357.4,249.8 359.5,249.7 361.5,249.6 363.5,249.5 365.6,249.5 367.6,249.6 369.6,249.6 371.7,249.8 373.7,249.9 375.8,250.1 377.8,250.3 379.8,250.6 381.9,250.8 383.9,251.2 385.9,251.5 388.0,251.9 390.0,252.4 392.0,252.9 394.0,253.4 395.9,253.9 397.9,254.5 399.8,255.1 401.7,255.8 403.6,256.5 405.5,257.3 407.3,258.1 409.2,258.9 410.9,259.8 412.7,260.7 414.4,261.7 416.1,262.7 417.8,263.7 419.4,264.8 421.0,266.0 422.5,267.2 424.0,268.4 425.5,269.7 426.9,271.0 428.3,272.4 429.6,273.8 430.9,275.2 432.1,276.7 433.3,278.2 434.5,279.8 435.6,281.4 436.7,283.0 437.7,284.7 438.8,286.4 439.8,288.1 440.7,289.8 441.7,291.6 442.6,293.4 443.4,295.2 444.3,297.1 445.1,298.9 445.9,300.8 446.7,302.7 447.5,304.6 448.2,306.5 449.0,308.4 449.7,310.3 450.4,312.2 451.1,314.2 451.7,316.1 452.4,318.0 453.0,320.0 453.7,321.9 454.3,323.8 454.9,325.8 455.6,327.7 456.2,329.6 456.7,331.6 457.3,333.5 457.9,335.4 458.5,337.4 459.0,339.3 459.6,341.3 460.1,343.2 460.6,345.1 461.2,347.1 461.7,349.0 462.2,351.0 462.7,352.9 463.2,354.8 463.6,356.8 464.1,358.7 464.6,360.7 465.0,362.6 465.5,364.5 465.9,366.5 466.3,368.4 466.8,370.4 467.2,372.3 467.6,374.3 468.0,376.2 468.4,378.2 468.8,380.1 469.1,382.1 469.5,384.0 469.9,386.0 470.3,388.0 470.6,389.9 471.0,391.9 471.3,393.8 471.6,395.8 472.0,397.8 472.3,399.7 472.6,401.7 472.9,403.7 473.2,405.6 473.5,407.6 473.8,409.6 474.1,411.6 474.4,413.5 474.7,415.5 475.0,417.5 475.3,419.5 475.5,421.5 475.8,423.4 476.1,425.4 476.3,427.4 476.6,429.4 476.8,431.4 477.1,433.4 477.3,435.4 477.6,437.4 477.8,439.4 478.0,441.4 478.2,443.4 478.5,445.4 478.7,447.4 478.9,449.4 479.1,451.5 479.3,453.5 479.5,455.5 479.8,457.5 480.0,459.5 480.2,461.6 480.4,463.6" stroke="#ff00ff"/>
</g>
<g stroke="#1a1a1a" stroke-width="1.8" fill="none">
<line x1="63" y1="8.3" x2="63" y2="465.3" />
<line x1="62" y1="464.2" x2="628.5" y2="464.2" />
<line x1="54.0" y1="464.0" x2="63" y2="464.0" />
<line x1="58.5" y1="418.5" x2="63" y2="418.5" />
<line x1="54.0" y1="373.0" x2="63" y2="373.0" />
<line x1="58.5" y1="327.5" x2="63" y2="327.5" />
<line x1="54.0" y1="282.0" x2="63" y2="282.0" />
<line x1="58.5" y1="236.5" x2="63" y2="236.5" />
<line x1="54.0" y1="191.0" x2="63" y2="191.0" />
<line x1="58.5" y1="145.5" x2="63" y2="145.5" />
<line x1="54.0" y1="100.0" x2="63" y2="100.0" />
<line x1="58.5" y1="54.5" x2="63" y2="54.5" />
<line x1="54.0" y1="9.0" x2="63" y2="9.0" />
<line x1="80.6" y1="464" x2="80.6" y2="472.7" />
<line x1="171.7" y1="464" x2="171.7" y2="469.0" />
<line x1="262.8" y1="464" x2="262.8" y2="472.7" />
<line x1="353.9" y1="464" x2="353.9" y2="469.0" />
<line x1="445.0" y1="464" x2="445.0" y2="472.7" />
<line x1="536.1" y1="464" x2="536.1" y2="469.0" />
<line x1="627.2" y1="464" x2="627.2" y2="472.7" />
</g>
<g fill="none" stroke-width="1.8">
<line x1="552.6" y1="119.4" x2="601.8" y2="119.4" stroke="#ff00ff"/><line x1="552.6" y1="146.5" x2="601.8" y2="146.5" stroke="#ec8030"/><line x1="552.6" y1="173.6" x2="601.8" y2="173.6" stroke="#8a1c22"/><line x1="552.6" y1="200.7" x2="601.8" y2="200.7" stroke="#118811"/><line x1="552.6" y1="227.8" x2="601.8" y2="227.8" stroke="#1a1aff"/><line x1="552.6" y1="254.9" x2="601.8" y2="254.9" stroke="#ff1a1a"/><line x1="552.6" y1="282.0" x2="601.8" y2="282.0" stroke="#1a1a1a"/></g>
<g font-family="'Liberation Serif', serif" font-weight="bold" font-size="21.2" fill="#111">
<text transform="translate(48.6,470.9) scale(1,1.050)" text-anchor="end">0</text>
<text transform="translate(48.6,379.9) scale(1,1.050)" text-anchor="end">2</text>
<text transform="translate(48.6,288.9) scale(1,1.050)" text-anchor="end">4</text>
<text transform="translate(48.6,197.9) scale(1,1.050)" text-anchor="end">6</text>
<text transform="translate(48.6,106.9) scale(1,1.050)" text-anchor="end">8</text>
<text transform="translate(48.6,15.9) scale(1,1.050)" text-anchor="end">10</text>
<text transform="translate(80.6,495.8) scale(1,1.050)" text-anchor="middle">20</text>
<text transform="translate(262.8,495.8) scale(1,1.050)" text-anchor="middle">30</text>
<text transform="translate(445.0,495.8) scale(1,1.050)" text-anchor="middle">40</text>
<text transform="translate(627.2,495.8) scale(1,1.050)" text-anchor="middle">50</text>
<text transform="translate(335.2,527.8) scale(1,1.050)" text-anchor="middle">Re(Z)/ohm</text>
<text transform="translate(17.0,236.6) rotate(-90) scale(1.025,1)" text-anchor="middle">-Im(Z)/ohm</text>
<text transform="translate(607.0,127.6) scale(1,1.050)" text-anchor="start">3a+N3</text>
<text transform="translate(607.0,154.7) scale(1,1.050)" text-anchor="start">3b+N3</text>
<text transform="translate(607.0,181.8) scale(1,1.050)" text-anchor="start">3c+N3</text>
<text transform="translate(607.0,208.9) scale(1,1.050)" text-anchor="start">5a+N3</text>
<text transform="translate(607.0,236.0) scale(1,1.050)" text-anchor="start">5b+N3</text>
<text transform="translate(607.0,263.1) scale(1,1.050)" text-anchor="start">5c+N3</text>
<text transform="translate(607.0,290.2) scale(1,1.050)" text-anchor="start">N3</text></g>

<g fill="none" stroke="#222" stroke-width="1.45" stroke-linejoin="miter">
<path d="M253.4,40.1 H279.6 L284.4,42.8 L290.4,37.6 L297.2,42.8 L306.6,37.6 L309.3,40.1 H345.6 L350.9,43 L358,37.4 L365.1,43 L372.6,37.4 L375.9,40.1 H411.2 L415,43 L422.5,37.6 L430,43 L439,37.6 L442.7,40.1 H473 L476.3,43.2 L478.6,39.3 L480.7,43.2 L485.2,38.2 L486,40.1 H497.2"/>
<path d="M335.2,40.1 V57.3 H357.8 M361.5,57.3 H386.6 V40.1"/>
<path d="M354.2,53.8 L358,57.3 L354.2,60.8 M361,53.8 L364.6,57.3 L361,60.8"/>
<path d="M401.6,40.1 V57 H424.3 M428,57 H453.1 V40.1"/>
<path d="M420.6,53.5 L424.4,57 L420.6,60.5 M427.6,53.5 L431.2,57 L427.6,60.5"/>
</g>
<circle cx="335.2" cy="40.1" r="3" fill="#111"/>
<circle cx="401.5" cy="40.1" r="3" fill="#111"/>
<circle cx="487.6" cy="43.3" r="0.9" fill="#333"/>
<g font-family="'Liberation Serif', serif" font-weight="bold" fill="#1a1a1a" font-size="9.2">
<text x="288.6" y="35.2">Rs</text>
<text x="351.3" y="35.6">R<tspan font-size="6.2" dx="0.3">CE</tspan></text>
<text x="351.6" y="51.8">Cp</text>
<text x="416.2" y="35.5">Rct</text>
<text x="417.4" y="51.8">C&#956;</text>
<text x="472.1" y="35.9">Rw</text>
</g>

</svg>
</body></html>
